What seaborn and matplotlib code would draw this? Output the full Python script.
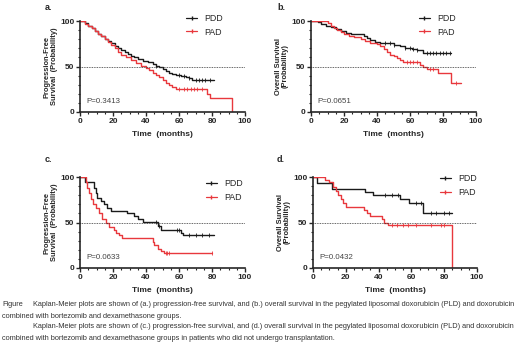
import numpy as np
import pandas as pd
import matplotlib
matplotlib.use("Agg")
import matplotlib.pyplot as plt
from matplotlib.lines import Line2D
from matplotlib.ticker import MultipleLocator
import seaborn as sns

# Kaplan-Meier step data: time (months) and survival (%) from that time on
# a. progression-free survival
a_pdd_t = [0, 3, 5, 7, 9, 11, 13, 15, 17, 19, 21, 23, 25, 27, 29, 31, 33, 35, 38, 41, 44, 46, 48, 50, 52, 54, 56, 58, 61, 64, 66, 68, 81]
a_pdd_s = [100, 98, 95, 92, 89, 86, 83, 80, 78, 76, 73, 70, 68, 66, 64, 62, 60, 58, 56, 55, 53, 51, 49, 47, 45, 43, 42, 41, 40, 38, 37, 35, 35]
a_pad_t = [0, 3, 5, 7, 9, 11, 13, 15, 17, 19, 21, 23, 25, 28, 31, 34, 37, 40, 42, 44, 46, 48, 50, 52, 54, 56, 58, 77, 79, 92]
a_pad_s = [100, 97, 95, 92, 89, 86, 83, 80, 77, 74, 70, 66, 63, 60, 57, 54, 51, 48, 46, 43, 41, 38, 35, 32, 30, 27, 25, 20, 15, 0]
a_pdd_cens = [46, 60, 63, 66, 70, 72, 74, 76, 79]
a_pad_cens = [60, 63, 65, 67, 69, 71, 74]

# b. overall survival
b_pdd_t = [0, 4, 6, 9, 12, 15, 18, 21, 24, 30, 32, 34, 36, 39, 42, 47, 50, 54, 57, 61, 64, 68, 85]
b_pdd_s = [100, 99, 97, 95, 93, 91, 89, 87, 86, 86, 83, 81, 79, 77, 76, 76, 74, 72, 70, 69, 68, 65, 65]
b_pad_t = [0, 10, 12, 14, 16, 18, 20, 23, 26, 30, 33, 36, 40, 42, 44, 46, 48, 50, 52, 54, 56, 64, 66, 68, 70, 77, 85, 91]
b_pad_s = [100, 98, 95, 92, 90, 88, 86, 84, 82, 80, 78, 76, 75, 72, 69, 66, 63, 61, 59, 57, 55, 55, 52, 50, 47, 43, 32, 32]
b_pdd_cens = [45, 48, 50, 57, 60, 62, 64, 70, 72, 74, 76, 78, 80, 82, 84]
b_pad_cens = [58, 60, 62, 64, 72, 74, 88]

# c. progression-free survival, no transplantation
c_pdd_t = [0, 3, 8.5, 9.5, 10.5, 12.5, 14.5, 16.5, 18.5, 28.5, 32.5, 35, 38, 47, 49, 61, 62.5, 81]
c_pdd_s = [100, 94, 88, 82, 77, 74, 70, 66, 63, 60, 57, 54, 51, 46, 42, 39, 36, 36]
c_pad_t = [0, 3.4, 4.5, 5.5, 6.5, 8, 9.5, 11.5, 13.5, 15.5, 17.6, 20.6, 21.7, 23.7, 25.7, 44, 45, 47, 49, 51, 80]
c_pad_s = [100, 94, 88, 82, 76, 70, 66, 60, 54, 49, 45, 42, 39, 36, 33, 29, 25, 21, 19, 17, 17]
c_pdd_cens = [46, 48, 59, 60, 66, 70, 74, 78]
c_pad_cens = [52, 53, 54, 80]

# d. overall survival, no transplantation
d_pdd_t = [0, 2.4, 11.5, 31.8, 36.8, 53, 58.7, 67.2, 85]
d_pdd_s = [100, 93, 87, 84, 80, 76, 71, 60, 60]
d_pad_t = [0, 7.5, 10, 12, 14, 15, 17, 18, 20, 31, 33, 35, 42, 43, 46, 85]
d_pad_s = [100, 97, 94, 89, 85, 80, 76, 71, 67, 64, 60, 57, 54, 50, 47, 0]
d_pdd_cens = [44, 48, 52, 63, 66, 72, 75, 80, 83]
d_pad_cens = [48, 51, 55, 58, 63, 72, 78, 80]

labels = ["PDD", "PAD"]
p_values = ["P=0.3413", "P=0.0651", "P=0.0633", "P=0.0432"]
panel_tags = ["a.", "b.", "c.", "d."]
pfs_label = "Progression-Free\nSurvival  (Probability)"
os_label = "Overall Survival\n(Probability)"
y_labels = [pfs_label, os_label, pfs_label, os_label]

caption_1 = ("Kaplan-Meier plots are shown of (a.) progression-free survival, and (b.) overall survival in the "
             "pegylated liposomal doxorubicin (PLD) and doxorubicin")
caption_2 = "combined with bortezomib and dexamethasone groups."
caption_3 = ("Kaplan-Meier plots are shown of (c.) progression-free survival, and (d.) overall survival in the "
             "pegylated liposomal doxorubicin (PLD) and doxorubicin")
caption_4 = "combined with bortezomib and dexamethasone groups in patients who did not undergo transplantation."

panels = [
    (a_pdd_t, a_pdd_s, a_pdd_cens, a_pad_t, a_pad_s, a_pad_cens),
    (b_pdd_t, b_pdd_s, b_pdd_cens, b_pad_t, b_pad_s, b_pad_cens),
    (c_pdd_t, c_pdd_s, c_pdd_cens, c_pad_t, c_pad_s, c_pad_cens),
    (d_pdd_t, d_pdd_s, d_pdd_cens, d_pad_t, d_pad_s, d_pad_cens),
]

sns.set_style("ticks")
plt.rcParams["font.family"] = ["Liberation Sans", "DejaVu Sans"]

BLACK = "#1a1a1a"
RED = "#e8383d"

fig = plt.figure(figsize=(5.2, 3.57), dpi=100)
W, H = 520, 357
# axes boxes in pixels: left, top, right, bottom
boxes = [(80, 21, 245, 112), (311, 21, 476, 112), (80, 177, 245, 268), (313, 177, 477, 268)]
tag_pos = [(45, 7), (277, 7), (45, 160), (277, 160)]
leg_anchor = [(0.62, 1.12), (0.63, 1.12), (0.74, 1.02), (0.75, 1.07)]


def step_value(t, s, c):
    i = np.searchsorted(t, c, side="right") - 1
    return s[i]


for k, (box, data) in enumerate(zip(boxes, panels)):
    l, t, r, b = box
    ax = fig.add_axes([l / W, 1 - b / H, (r - l) / W, (b - t) / H])
    for (tt, ss, cc), col in zip([data[0:3], data[3:6]], [BLACK, RED]):
        df = pd.DataFrame({"time": tt, "surv": ss})
        sns.lineplot(data=df, x="time", y="surv", drawstyle="steps-post", estimator=None,
                     sort=False, color=col, lw=1.0, ax=ax)
        cy = [step_value(np.array(tt), np.array(ss), c) for c in cc]
        ax.scatter(cc, cy, marker="|", s=6, color=col, linewidths=0.6, zorder=3)
    ax.axhline(50, color="#333333", ls=(0, (1, 1)), lw=0.6)
    ax.set_xlim(0, 100)
    ax.set_ylim(0, 100)
    ax.set_xticks([0, 20, 40, 60, 80, 100])
    ax.set_yticks([0, 50, 100])
    ax.xaxis.set_minor_locator(MultipleLocator(5))
    ax.yaxis.set_minor_locator(MultipleLocator(10))
    ax.tick_params(which="major", length=3, width=1.0, labelsize=6, pad=1)
    ax.tick_params(which="minor", length=1.6, width=0.8)
    for lab in ax.get_xticklabels() + ax.get_yticklabels():
        lab.set_fontweight("bold")
    for sp in ["left", "bottom"]:
        ax.spines[sp].set_linewidth(1.2)
    sns.despine(ax=ax)
    ax.set_xlabel("Time  (months)", fontsize=6, fontweight="bold", labelpad=5)
    ax.set_ylabel(y_labels[k], fontsize=5.4, fontweight="bold", labelpad=1.5, linespacing=1.1)
    ax.text(0.04, 0.1, p_values[k], transform=ax.transAxes, fontsize=5.7, color="#444444")
    handles = [Line2D([], [], color=BLACK, lw=0.9, marker="|", markersize=3),
               Line2D([], [], color=RED, lw=0.9, marker="|", markersize=3)]
    ax.legend(handles, labels, loc="upper left", bbox_to_anchor=leg_anchor[k], frameon=False,
              fontsize=6.4, handlelength=1.3, handletextpad=0.8, labelspacing=0.55, numpoints=1,
              borderaxespad=0)
    fig.text(tag_pos[k][0] / W, 1 - tag_pos[k][1] / H, panel_tags[k], fontsize=6.5,
             fontweight="bold", va="center")

cap_kw = dict(fontsize=5.35, color="#333333", va="center")
fig.text(2 / W, 1 - 304 / H, "Figure", **cap_kw)
fig.text(33 / W, 1 - 304 / H, caption_1, **cap_kw)
fig.text(2 / W, 1 - 316 / H, caption_2, **cap_kw)
fig.text(33 / W, 1 - 327 / H, caption_3, **cap_kw)
fig.text(2 / W, 1 - 339 / H, caption_4, **cap_kw)

fig.savefig("out.png", dpi=100, facecolor="white")
